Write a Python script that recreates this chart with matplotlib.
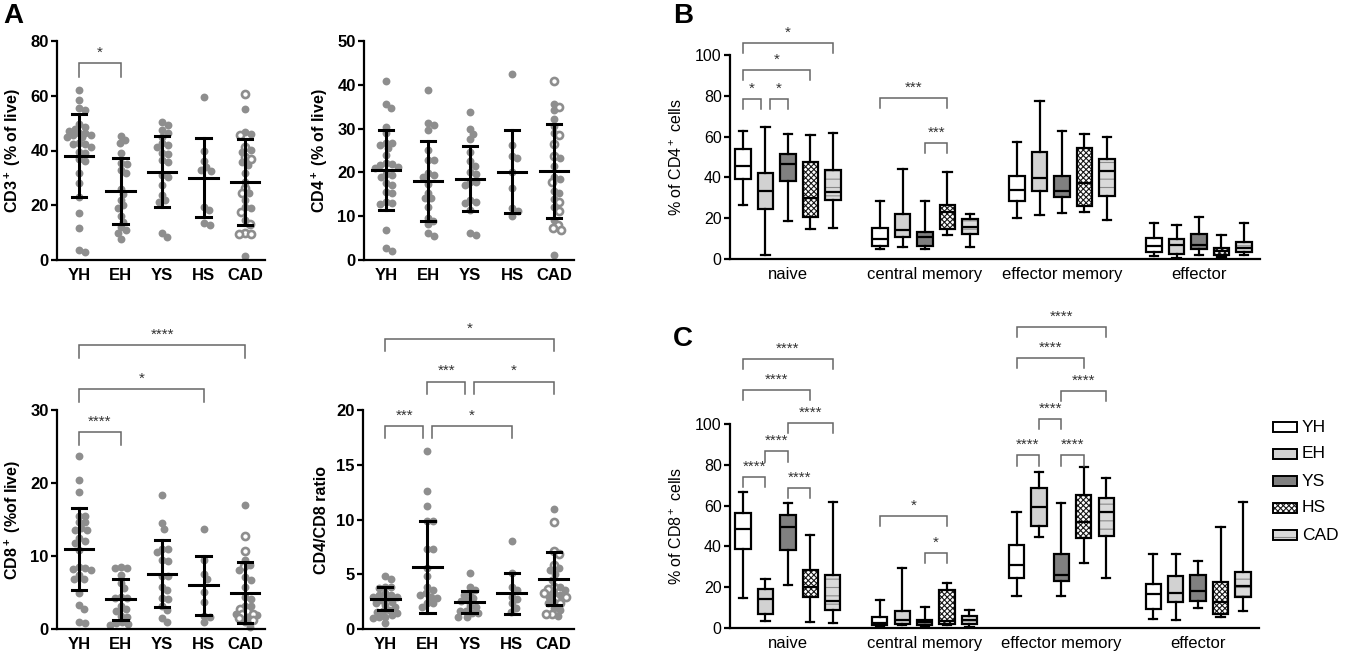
import matplotlib
matplotlib.use("Agg")
import matplotlib.pyplot as plt
from matplotlib.patches import Rectangle
import numpy as np

plt.rcParams["font.family"] = ["Liberation Sans", "DejaVu Sans"]
plt.rcParams["mathtext.fontset"] = "custom"
plt.rcParams["mathtext.rm"] = "Liberation Sans"
plt.rcParams["mathtext.default"] = "regular"
plt.rcParams["hatch.linewidth"] = 0.8

GROUPS = ["YH", "EH", "YS", "HS", "CAD"]
SUBSETS = ["naive", "central memory", "effector memory", "effector"]

# ---- panel A: per-donor values (filled = gray dots, CAD also has open circles)
CD3_YH = [62.1, 58.5, 55.4, 54.8, 49.7, 48.7, 48.0, 47.3, 46.3, 46.3, 45.7, 45.7, 45.0, 45.0,
          42.6, 42.3, 42.4, 41.4, 39.6, 39.0, 36.1, 36.9, 31.7, 28.0, 23.1, 17.0, 11.6, 3.0, 3.7]
CD3_EH = [45.3, 43.8, 42.6, 39.2, 35.0, 35.3, 32.9, 31.7, 26.0, 24.0, 22.0, 20.0, 19.0, 16.0,
          14.0, 12.0, 11.0, 10.0, 7.5]
CD3_YS = [50.5, 49.3, 47.5, 46.3, 45.0, 42.6, 42.0, 41.4, 39.0, 38.7, 36.5, 35.9, 31.0, 30.5,
          27.4, 23.8, 21.9, 21.3, 10.0, 8.5]
CD3_HS = [59.7, 40.0, 36.0, 34.0, 33.0, 32.6, 19.5, 18.2, 13.4, 12.8]
CD3_CAD = [55.2, 46.8, 45.9, 40.2, 39.6, 35.9, 34.7, 31.7, 28.6, 24.4, 21.9, 19.2, 18.9, 14.6, 1.5]
CD3_CAD_OPEN = [60.6, 45.7, 41.4, 37.8, 36.8, 26.2, 24.4, 17.7, 13.2, 9.7, 9.4, 9.4]
CD3_MEAN = [38.1, 25.3, 32.3, 30.1, 28.6]
CD3_SD = [15.2, 12.0, 13.1, 14.5, 15.7]

CD4_YH = [40.9, 35.6, 34.6, 30.4, 28.9, 26.8, 26.6, 26.3, 25.5, 24.0, 22.1, 21.9, 21.6, 21.3,
          20.9, 19.6, 19.4, 19.0, 17.5, 17.1, 15.6, 15.2, 13.3, 12.9, 12.8, 6.8, 2.7, 2.1]
CD4_EH = [38.7, 31.2, 30.8, 29.7, 25.1, 22.8, 22.8, 19.8, 19.3, 18.9, 17.4, 15.4, 14.2, 14.1,
          12.0, 9.7, 8.8, 8.2, 6.1, 5.5]
CD4_YS = [33.9, 30.0, 28.8, 27.6, 24.7, 22.5, 21.5, 20.2, 19.6, 17.7, 17.7, 17.1, 13.7, 13.3,
          12.9, 11.4, 6.2, 5.6]
CD4_HS = [42.5, 26.3, 23.8, 23.2, 20.2, 16.4, 11.8, 11.3, 10.0]
CD4_CAD = [35.6, 34.2, 32.3, 30.6, 29.1, 23.4, 21.5, 19.0, 18.6, 15.8, 15.2, 13.9, 12.0, 9.1, 1.1]
CD4_CAD_OPEN = [40.9, 34.9, 28.5, 26.5, 23.7, 17.7, 13.3, 11.3, 8.0, 7.2, 6.8]
CD4_MEAN = [20.5, 18.1, 18.6, 20.2, 20.3]
CD4_SD = [9.1, 9.1, 7.5, 9.5, 10.8]

CD8_YH = [23.7, 20.4, 18.8, 15.5, 15.5, 14.6, 14.6, 13.8, 13.6, 13.5, 12.4, 12.1, 11.8, 10.8,
          8.5, 8.4, 8.2, 8.1, 7.4, 6.9, 6.9, 4.9, 3.3, 2.8, 0.9, 0.8]
CD8_EH = [8.5, 8.4, 8.4, 7.4, 6.3, 5.6, 4.4, 4.3, 4.2, 3.1, 2.7, 2.5, 1.8, 1.6, 1.0, 0.8, 0.7, 0.5]
CD8_YS = [18.3, 14.5, 13.7, 11.0, 10.9, 10.6, 9.5, 9.3, 7.2, 7.2, 5.8, 5.3, 4.3, 4.1, 3.1, 2.6,
          1.5, 1.0]
CD8_HS = [13.7, 9.5, 7.6, 6.9, 5.1, 3.7, 1.8, 1.6, 0.9]
CD8_CAD = [17.0, 9.4, 8.8, 8.1, 7.1, 6.7, 5.8, 4.4, 4.1, 3.2, 3.1, 2.1, 1.9, 1.7, 0.9, 0.3]
CD8_CAD_OPEN = [12.8, 10.7, 8.6, 2.7, 2.4, 2.1, 2.0, 1.5, 1.2]
CD8_MEAN = [11.0, 4.05, 7.6, 6.0, 5.0]
CD8_SD = [5.6, 2.8, 4.65, 4.05, 4.2]

RATIO_YH = [4.84, 4.54, 3.87, 3.87, 3.7, 3.26, 3.1, 3.1, 2.95, 2.95, 2.8, 2.65, 2.5, 2.34, 2.2,
            2.0, 1.74, 1.67, 1.58, 1.5, 1.3, 1.13, 1.07, 0.97, 0.58]
RATIO_EH = [16.3, 12.6, 11.2, 9.9, 9.9, 7.3, 7.3, 5.6, 4.84, 3.8, 3.6, 3.26, 3.1, 2.9, 2.8,
            2.34, 2.34, 1.98]
RATIO_YS = [5.14, 3.87, 3.6, 3.26, 3.1, 2.8, 2.65, 2.6, 2.1, 2.0, 1.67, 1.6, 1.5, 1.43, 1.13, 1.07]
RATIO_HS = [8.07, 5.08, 3.87, 3.6, 2.95, 2.7, 2.34, 1.9, 1.58]
RATIO_CAD = [11.0, 5.6, 5.4, 5.0, 4.5, 3.87, 3.56, 3.26, 3.1, 2.95, 2.5, 2.34, 1.9, 1.74, 1.2]
RATIO_CAD_OPEN = [9.8, 7.1, 6.85, 5.85, 3.87, 3.65, 3.26, 2.95, 2.4, 1.37, 1.37]
RATIO_MEAN = [2.75, 5.7, 2.5, 3.25, 4.6]
RATIO_SD = [1.05, 4.2, 1.0, 1.85, 2.4]

# ---- panels B/C: (whisker low, Q1, median, Q3, whisker high) per cohort
CD4_NAIVE = [(26.3, 39.2, 45.8, 54.0, 62.6), (1.8, 24.7, 33.5, 42.3, 64.5),
             (18.5, 38.4, 46.6, 51.6, 61.3), (14.7, 20.6, 30.0, 47.5, 60.8),
             (15.0, 28.9, 32.7, 43.8, 61.8)]
CD4_CM = [(4.9, 6.2, 9.8, 15.0, 28.3), (5.9, 10.6, 14.4, 22.0, 44.1),
          (4.9, 6.5, 10.6, 13.2, 28.3), (11.8, 14.7, 23.2, 26.3, 42.5),
          (6.0, 12.5, 15.5, 19.5, 22.0)]
CD4_EM = [(19.9, 28.6, 34.0, 40.8, 57.2), (21.4, 33.5, 39.7, 52.6, 77.3),
          (22.5, 30.4, 33.5, 40.5, 62.6), (23.0, 25.8, 37.1, 54.4, 61.1),
          (19.3, 30.7, 43.0, 49.0, 59.6)]
CD4_EFF = [(1.5, 3.3, 6.2, 10.1, 17.5), (0.5, 2.6, 7.0, 9.6, 16.7),
           (2.0, 4.7, 7.0, 12.3, 20.8), (0.8, 2.0, 3.9, 5.2, 11.8),
           (1.8, 3.3, 5.4, 8.3, 17.5)]

CD8_NAIVE = [(14.7, 38.6, 48.7, 56.5, 66.5), (3.4, 6.9, 14.0, 19.0, 24.2),
             (21.0, 38.2, 49.4, 55.4, 61.1), (2.9, 15.4, 20.0, 28.4, 45.6),
             (2.3, 8.8, 13.4, 25.8, 61.8)]
CD8_CM = [(0.8, 1.3, 2.5, 5.4, 13.6), (1.6, 2.1, 4.1, 8.5, 29.4),
          (0.8, 1.3, 2.8, 4.1, 10.3), (1.3, 2.1, 3.3, 18.5, 22.2),
          (0.7, 2.1, 4.1, 5.9, 8.8)]
CD8_EM = [(15.7, 24.5, 30.7, 40.8, 56.9), (44.4, 50.0, 59.2, 68.5, 76.6),
          (15.7, 22.9, 26.1, 36.1, 61.4), (31.9, 44.1, 52.0, 65.2, 78.9),
          (24.5, 44.9, 56.7, 63.7, 73.5)]
CD8_EFF = [(4.6, 9.3, 16.7, 21.7, 36.4), (3.8, 12.6, 17.2, 25.3, 36.3),
           (9.8, 13.1, 18.0, 26.1, 33.0), (5.2, 6.9, 12.6, 22.4, 49.5),
           (8.2, 15.2, 20.4, 27.6, 61.9)]

# ---- significance brackets: (group index a, group index b, level, label)
CD3_SIG = [(0, 1, 71.9, "*")]
CD8_SIG = [(0, 4, 38.9, "****"), (0, 3, 32.9, "*"), (0, 1, 27.0, "****")]
RATIO_SIG = [(0, 4, 26.5, "*"), (1, 2, 22.6, "***"), (2, 4, 22.6, "*"),
             (0, 1, 18.5, "***"), (1, 3, 18.5, "*")]
# (subset index, cohort a, cohort b, level, label)
CD4_BOX_SIG = [(0, 0, 4, 105.9, "*"), (0, 0, 3, 92.6, "*"), (0, 0, 1, 78.4, "*"),
               (0, 1, 2, 78.4, "*"), (1, 0, 3, 78.9, "***"), (1, 2, 3, 56.9, "***")]
CD8_BOX_SIG = [(0, 0, 4, 131.9, "****"), (0, 0, 3, 116.8, "****"), (0, 2, 4, 100.5, "****"),
               (0, 1, 2, 86.6, "****"), (0, 0, 1, 74.0, "****"), (0, 2, 3, 68.6, "****"),
               (1, 0, 3, 55.0, "*"), (1, 2, 3, 36.8, "*"),
               (2, 0, 4, 147.5, "****"), (2, 0, 3, 132.4, "****"), (2, 2, 4, 116.3, "****"),
               (2, 1, 2, 102.5, "****"), (2, 0, 1, 84.6, "****"), (2, 2, 3, 84.6, "****")]

DOT = "#8e8e8e"
BRACKET = "#666666"
FILLS = ["white", "#d2d2d2", "#808080", "white", "#dadada"]
HATCHES = [None, None, None, "xxxxxx", "--"]
HATCH_COLORS = ["white", "#d2d2d2", "#808080", "#1a1a1a", "#8a8a8a"]

W, H = 1345, 654
fig = plt.figure(figsize=(W / 100, H / 100), dpi=100)


def px_axes(left, top, right, bottom):
    return fig.add_axes([left / W, 1 - bottom / H, (right - left) / W, (bottom - top) / H])


def style_axis(ax, bold, size):
    for side in ("top", "right"):
        ax.spines[side].set_visible(False)
    for side in ("left", "bottom"):
        ax.spines[side].set_linewidth(1.6)
    ax.tick_params(axis="y", length=4, width=1.6, labelsize=size, pad=2)
    ax.tick_params(axis="x", length=0, labelsize=size + (0 if bold else 0.5), pad=6)
    weight = "bold" if bold else "normal"
    for lab in ax.get_xticklabels() + ax.get_yticklabels():
        lab.set_fontweight(weight)


def swarm(values, ax, diam=6.0, limit=12.0):
    """Spread points sideways so they overlap little, within +-limit pixels."""
    bbox = ax.get_window_extent()
    x0, x1 = ax.get_xlim()
    y0, y1 = ax.get_ylim()
    sx = bbox.width / (x1 - x0)
    sy = bbox.height / (y1 - y0)
    steps = np.arange(0, limit + 0.01, 0.5)
    cands = [c for s in steps for c in ((s, -s) if s else (0,))]
    placed = []
    out = np.zeros(len(values))
    for i in np.argsort(values)[::-1]:
        y = values[i] * sy
        best, best_d = 0.0, -1.0
        for c in cands:
            d = min((np.hypot(c - px, y - py) for px, py in placed), default=1e9)
            if d >= diam:
                best = c
                break
            if d > best_d:
                best, best_d = c, d
        placed.append((best, y))
        out[i] = best / sx
    return out


def bracket(ax, x1, x2, y, drop, label):
    ax.plot([x1, x1, x2, x2], [y - drop, y, y, y - drop], color=BRACKET, lw=1.1,
            clip_on=False, solid_joinstyle="miter")
    ax.annotate(label, xy=((x1 + x2) / 2, y), xytext=(0, 4.5), textcoords="offset points",
                ha="center", va="baseline", fontsize=11, color="#333333",
                annotation_clip=False)


def shared_ends(sigs):
    """Flag bracket ends that meet another bracket at the same level."""
    ends = []
    for s in sigs:
        a, b, lvl = s[-4], s[-3], s[-2]
        left_shared = any(o is not s and o[-2] == lvl and o[-3] == a for o in sigs)
        right_shared = any(o is not s and o[-2] == lvl and o[-4] == b for o in sigs)
        ends.append((left_shared, right_shared))
    return ends


def scatter_panel(ax, groups, cad_open, means, sds, ymax, step, ylabel, sigs, drop):
    ax.set_xlim(-0.53, 4.48)
    ax.set_ylim(0, ymax)
    ax.set_yticks(np.arange(0, ymax + 0.01, step))
    ax.set_xticks(range(5))
    ax.set_xticklabels(GROUPS)
    style_axis(ax, True, 12)
    ax.set_ylabel(ylabel, fontsize=11.5, fontweight="bold", labelpad=5)
    for k, vals in enumerate(groups):
        vals = list(vals)
        n_fill = len(vals)
        if k == 4:
            vals = vals + list(cad_open)
        arr = np.array(vals)
        off = swarm(arr, ax)
        ax.scatter(k + off[:n_fill], arr[:n_fill], s=32, color=DOT, lw=0, zorder=2, clip_on=False)
        if n_fill < len(arr):
            ax.scatter(k + off[n_fill:], arr[n_fill:], s=26, facecolor="white", edgecolor=DOT,
                       lw=1.9, zorder=2, clip_on=False)
        m, sd = means[k], sds[k]
        ax.plot([k - 0.34, k + 0.34], [m, m], color="black", lw=2.2, zorder=3)
        ax.plot([k, k], [m - sd, m + sd], color="black", lw=2.2, zorder=3)
        for e in (m - sd, m + sd):
            ax.plot([k - 0.17, k + 0.17], [e, e], color="black", lw=2.2, zorder=3)
    for (a, b, lvl, lab), (ls, rs) in zip(sigs, shared_ends(sigs)):
        bracket(ax, a + (0.1 if ls else 0), b - (0.1 if rs else 0), lvl, drop, lab)


STEP = 0.164
BOX_W = 0.112
CAP_W = 0.06


def box_panel(ax, subsets, ylabel, sigs):
    ax.set_xlim(-0.423, 3.445)
    ax.set_ylim(0, 100)
    ax.set_yticks(range(0, 101, 20))
    ax.set_xticks(range(4))
    ax.set_xticklabels(SUBSETS)
    style_axis(ax, False, 11.5)
    ax.set_ylabel(ylabel, fontsize=11.5, labelpad=7)
    for g, stats in enumerate(subsets):
        for k, (lo, q1, med, q3, hi) in enumerate(stats):
            pos = g + (k - 2) * STEP
            ax.add_patch(Rectangle((pos - BOX_W / 2, q1), BOX_W, q3 - q1, facecolor=FILLS[k],
                                   edgecolor=HATCH_COLORS[k], hatch=HATCHES[k], lw=0, zorder=1))
            line = dict(color="black", lw=1.6)
            ax.bxp([dict(med=med, q1=q1, q3=q3, whislo=lo, whishi=hi, fliers=[])],
                   positions=[pos], widths=BOX_W, capwidths=CAP_W, patch_artist=True,
                   showfliers=False, manage_ticks=False,
                   boxprops=dict(facecolor="none", edgecolor="black", lw=1.6),
                   medianprops=line, whiskerprops=line, capprops=line, zorder=2)
    for (g, a, b, lvl, lab), (ls, rs) in zip(sigs, shared_ends(sigs)):
        x1 = g + (a - 2) * STEP + (0.036 if ls else 0)
        x2 = g + (b - 2) * STEP - (0.036 if rs else 0)
        bracket(ax, x1, x2, lvl, 5.0, lab)


ax_cd3 = px_axes(57, 41, 265, 260)
scatter_panel(ax_cd3, [CD3_YH, CD3_EH, CD3_YS, CD3_HS, CD3_CAD], CD3_CAD_OPEN, CD3_MEAN, CD3_SD,
              80, 20, "CD3$^+$ (% of live)", CD3_SIG, 5.1)
ax_cd4 = px_axes(364, 41, 574, 260)
scatter_panel(ax_cd4, [CD4_YH, CD4_EH, CD4_YS, CD4_HS, CD4_CAD], CD4_CAD_OPEN, CD4_MEAN, CD4_SD,
              50, 10, "CD4$^+$ (% of live)", [], 0)
ax_cd8 = px_axes(57, 410, 265, 629)
scatter_panel(ax_cd8, [CD8_YH, CD8_EH, CD8_YS, CD8_HS, CD8_CAD], CD8_CAD_OPEN, CD8_MEAN, CD8_SD,
              30, 10, "CD8$^+$ (%of live)", CD8_SIG, 1.8)
ax_ratio = px_axes(363, 410, 574, 629)
scatter_panel(ax_ratio, [RATIO_YH, RATIO_EH, RATIO_YS, RATIO_HS, RATIO_CAD], RATIO_CAD_OPEN,
              RATIO_MEAN, RATIO_SD, 20, 5, "CD4/CD8 ratio", RATIO_SIG, 1.1)

ax_b = px_axes(730, 55, 1260, 259)
box_panel(ax_b, [CD4_NAIVE, CD4_CM, CD4_EM, CD4_EFF], "% of CD4$^+$ cells", CD4_BOX_SIG)
ax_c = px_axes(730, 424, 1259, 628)
box_panel(ax_c, [CD8_NAIVE, CD8_CM, CD8_EM, CD8_EFF], "% of CD8$^+$ cells", CD8_BOX_SIG)

# legend (drawn by hand so the hatch colours match the boxes)
ax_leg = px_axes(1265, 410, 1345, 550)
ax_leg.set_xlim(1265, 1345)
ax_leg.set_ylim(550, 410)
ax_leg.axis("off")
for k, name in enumerate(GROUPS):
    yc = 427 + 27 * k
    ax_leg.add_patch(Rectangle((1273, yc - 5), 24, 10, facecolor=FILLS[k],
                               edgecolor=HATCH_COLORS[k], hatch=HATCHES[k], lw=0))
    ax_leg.add_patch(Rectangle((1273, yc - 5), 24, 10, facecolor="none", edgecolor="black", lw=1.4))
    ax_leg.text(1302, yc, name, fontsize=12.5, va="center", ha="left")

for letter, x, y in (("A", 3, 3), ("B", 673, 3), ("C", 673, 326)):
    fig.text(x / W, 1 - y / H, letter, fontsize=20, fontweight="bold", va="top", ha="left")

fig.savefig("out.png", dpi=100)
